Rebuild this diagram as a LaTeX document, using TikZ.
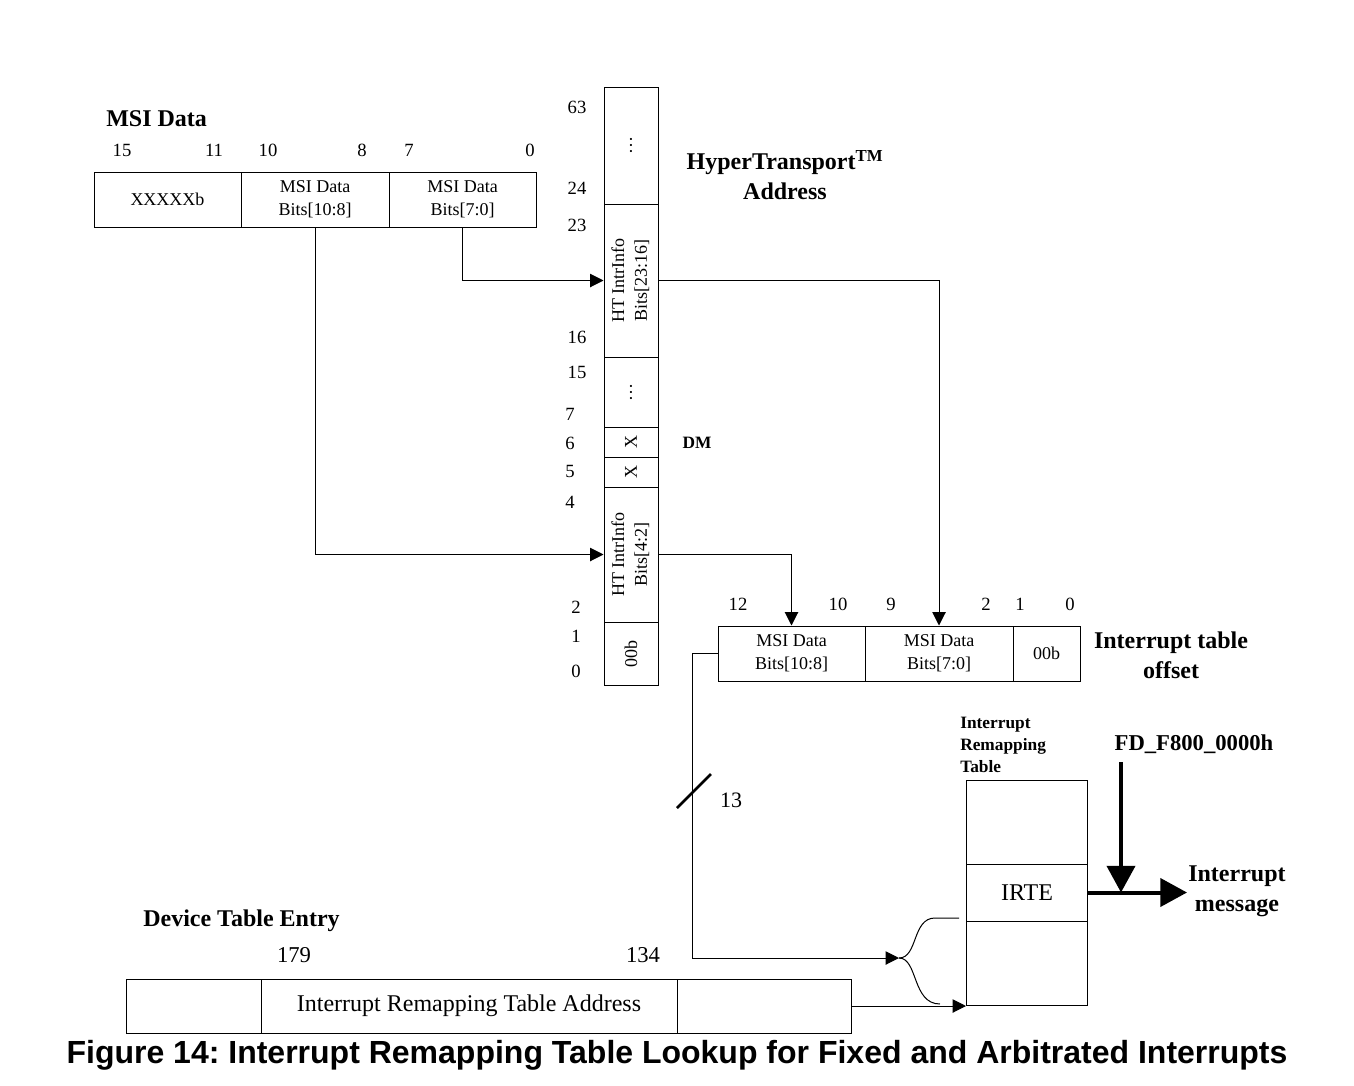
\documentclass[tikz,border=0pt]{standalone}
\usepackage{fontspec}
\setmainfont{Liberation Serif}
\newfontfamily\capfont{Liberation Sans}
\usetikzlibrary{arrows.meta}
\frenchspacing

\tikzset{
  cell/.style={draw, line width=0.75pt, rectangle, inner sep=0pt, align=center, font=\fontsize{13.5}{17}\selectfont},
  bitno/.style={inner sep=0.75pt, font=\fontsize{14}{16}\selectfont},
  num/.style={inner sep=0.75pt, font=\fontsize{17}{20}\selectfont},
  ttl/.style={inner sep=0.75pt, align=center, font=\fontsize{18}{22.5}\selectfont\bfseries},
  sttl/.style={inner sep=0.75pt, align=left, font=\fontsize{13}{16.5}\selectfont\bfseries},
  wire/.style={line width=0.75pt, -{Triangle[length=10pt,width=10pt]}},
  fat/.style={line width=3pt, -{Triangle[length=20pt,width=21pt]}},
}
\newcommand{\vtext}[1]{\rotatebox{90}{\begin{tabular}{@{}c@{}}#1\end{tabular}}}

\begin{document}
\begin{tikzpicture}[x=0.75pt,y=0.75pt,yscale=-1,xscale=1]
    \useasboundingbox (0,0) rectangle (1354,1086);

    % MSI Data register
    \draw (105,119) node [ttl, anchor=west] (msittl) {MSI Data};
    \draw (122,150) node [bitno] (m15) {15};
    \draw (214,150) node [bitno] (m11) {11};
    \draw (268,150) node [bitno] (m10) {10};
    \draw (362,150) node [bitno] (m8) {8};
    \draw (409,150) node [bitno] (m7) {7};
    \draw (530,150) node [bitno] (m0) {0};
    \draw (167.5,199.5) node [cell, minimum width=110.25pt, minimum height=41.25pt] (msiX) {XXXXXb};
    \draw (315,199.5) node [cell, minimum width=111pt, minimum height=41.25pt] (msiHi) {MSI Data\\Bits[10:8]};
    \draw (462.5,199.5) node [cell, minimum width=110.25pt, minimum height=41.25pt] (msiLo) {MSI Data\\Bits[7:0]};

    % HyperTransport address column
    \draw (631,145.5) node [cell, minimum width=40.5pt, minimum height=87.75pt] (htTop) {\rotatebox{90}{\ldots}};
    \draw (631,280.5) node [cell, minimum width=40.5pt, minimum height=114.75pt] (htHi) {\vtext{HT IntrInfo\\Bits[23:16]}};
    \draw (631,392) node [cell, minimum width=40.5pt, minimum height=52.5pt] (htMid) {\rotatebox{90}{\ldots}};
    \draw (631,442) node [cell, minimum width=40.5pt, minimum height=22.5pt] (htX6) {\rotatebox{90}{X}};
    \draw (631,472) node [cell, minimum width=40.5pt, minimum height=22.5pt] (htX5) {\rotatebox{90}{X}};
    \draw (631,554.5) node [cell, minimum width=40.5pt, minimum height=101.25pt] (htLo) {\vtext{HT IntrInfo\\Bits[4:2]}};
    \draw (631,653.5) node [cell, minimum width=40.5pt, minimum height=47.25pt] (ht00) {\rotatebox{90}{00b}};

    % Text Node
    \draw (577,107) node [bitno] (h63) {63};
    \draw (577,188) node [bitno] (h24) {24};
    \draw (577,225) node [bitno] (h23) {23};
    \draw (577,337) node [bitno] (h16) {16};
    \draw (577,372) node [bitno] (h15) {15};
    \draw (570,414) node [bitno] (h7) {7};
    \draw (570,443) node [bitno] (h6) {6};
    \draw (570,471) node [bitno] (h5) {5};
    \draw (570,502) node [bitno] (h4) {4};
    \draw (576,607) node [bitno] (h2) {2};
    \draw (576,636) node [bitno] (h1) {1};
    \draw (576,671) node [bitno] (h0) {0};
    \draw (785,175) node [ttl] (htttl) {HyperTransport\textsuperscript{TM}\\Address};
    \draw (697,443) node [sttl] (dm) {DM};

    % Interrupt table offset
    \draw (738,604) node [bitno] (o12) {12};
    \draw (838,604) node [bitno] (o10) {10};
    \draw (891,604) node [bitno] (o9) {9};
    \draw (986,604) node [bitno] (o2) {2};
    \draw (1020,604) node [bitno] (o1) {1};
    \draw (1070,604) node [bitno] (o0) {0};
    \draw (791.5,653.5) node [cell, minimum width=110.25pt, minimum height=41.25pt] (offA) {MSI Data\\Bits[10:8]};
    \draw (939,653.5) node [cell, minimum width=111pt, minimum height=41.25pt] (offB) {MSI Data\\Bits[7:0]};
    \draw (1046.5,653.5) node [cell, minimum width=50.25pt, minimum height=41.25pt] (off00) {00b};
    \draw (1171,655) node [ttl] (offttl) {Interrupt table\\offset};

    % Interrupt remapping table
    \draw (959,745) node [sttl, anchor=west] (irtttl) {Interrupt\\Remapping\\Table};
    \draw (1027,822) node [cell, minimum width=90.75pt, minimum height=63pt] (irtTop) {};
    \draw (1027,892.5) node [cell, minimum width=90.75pt, minimum height=42.75pt, font=\fontsize{18}{22}\selectfont] (irte) {IRTE};
    \draw (1027,963) node [cell, minimum width=90.75pt, minimum height=63pt] (irtBot) {};
    \draw (1194,744) node [ttl, font=\fontsize{17}{21}\selectfont\bfseries] (fd) {FD\_F800\_0000h};
    \draw (1187,891) node [ttl, anchor=west] (msg) {Interrupt\\message};

    % Device table entry
    \draw (142,921) node [ttl, anchor=west] (dtettl) {Device Table Entry};
    \draw (294,955) node [num] (d179) {179};
    \draw (643,955) node [num] (d134) {134};
    \draw (193.5,1006) node [cell, minimum width=101.25pt, minimum height=40.5pt] (dteA) {};
    \draw (469,1006) node [cell, minimum width=312pt, minimum height=40.5pt, font=\fontsize{18}{22}\selectfont] (dteB) {Interrupt Remapping Table Address};
    \draw (764,1006) node [cell, minimum width=130.5pt, minimum height=40.5pt] (dteC) {};

    % Connectors
    \draw [wire] (msiLo.south) |- (htHi.west);
    \draw [wire] (msiHi.south) |- (htLo.west);
    \draw [wire] (htHi.east) -| (offB.north);
    \draw [wire] (htLo.east) -| (offA.north);

    \coordinate (fork) at (899,958);
    \coordinate (upend) at (959,918);
    \draw [wire] (offA.west) -- ++(-25,0) |- (fork);
    \draw [line width=2pt] (677,808) -- (711,774);
    \draw (731,800) node [num, font=\fontsize{16.5}{20}\selectfont] (w13) {13};
    \draw [line width=0.75pt] (fork) .. controls (918,958) and (912,918) .. (935,918) -- (upend);
    \draw [line width=0.75pt] (fork) .. controls (918,958) and (912,1004) .. (940,1004);
    \draw [wire] (dteC.east) -- (dteC.east -| irtBot.west);

    \coordinate (fdtop) at (1121,762);
    \draw [fat] (fdtop) -- (fdtop |- irte.east);
    \draw [fat] (irte.east) -- (irte.east -| msg.west);

    % Caption
    \draw (677,1055) node [inner sep=0.75pt, font=\capfont\fontsize{24}{28}\selectfont\bfseries] (cap) {Figure 14: Interrupt Remapping Table Lookup for Fixed and Arbitrated Interrupts};
\end{tikzpicture}
\end{document}
